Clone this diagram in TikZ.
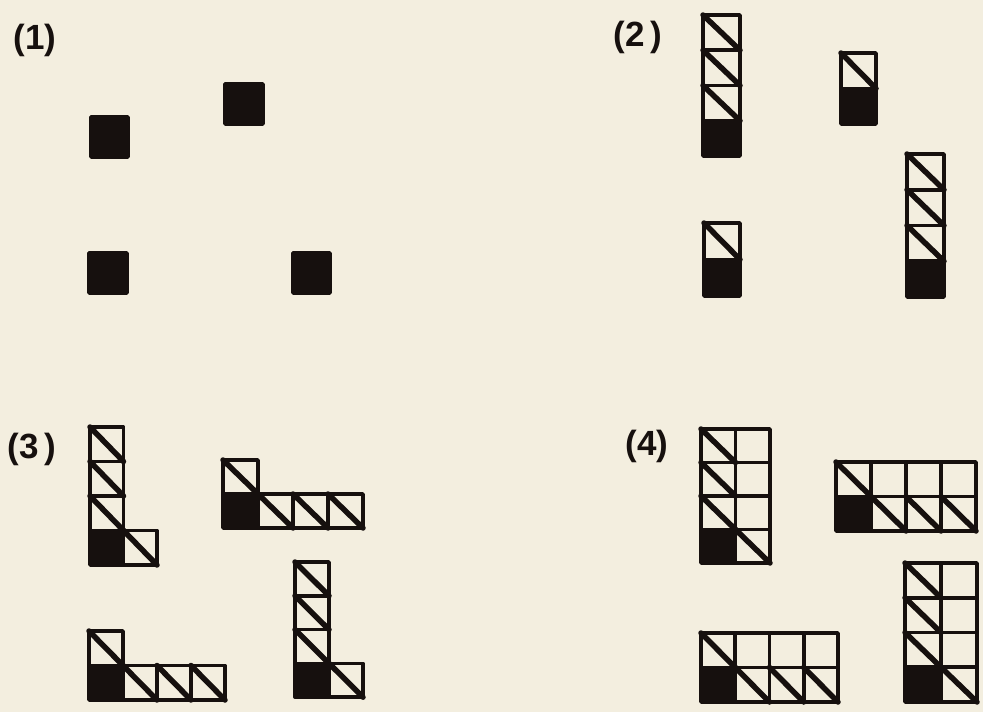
\documentclass[tikz,border=0pt]{standalone}
\usepackage{fontspec}
\setmainfont{Liberation Sans}
\definecolor{Paper}{RGB}{243,238,223}
\definecolor{Ink}{RGB}{22,16,14}

% one cell of a pattern, (#1,#2) = top left corner in cell units
\newcommand{\hatchcell}[2]{%
  \draw[cellline] (#1,#2) rectangle ++(1,1);
  \draw[diagline] (#1,#2) -- ++(1,1);}
\newcommand{\darkcell}[2]{%
  \filldraw[cellline, fill=Ink] (#1,#2) rectangle ++(1,1);}
\newcommand{\plaincell}[2]{%
  \draw[cellline] (#1,#2) rectangle ++(1,1);}

\begin{document}
\begin{tikzpicture}[x=1pt, y=-1pt,
          cellline/.style={draw=Ink, line width=3.6pt, line join=round},
          diagline/.style={draw=Ink, line width=5.5pt, line cap=round},
          stage/.style={font=\fontsize{35}{40}\selectfont\bfseries, text=Ink, inner sep=0pt}
        ]
        \fill[Paper] (0,0) rectangle (983,712);

        % stage labels
        \node[stage] (s1) at (35,40)  {(1)};
        \node[stage] (s2) at (638,37) {(2\,)};
        \node[stage] (s3) at (32,449) {(3\,)};
        \node[stage] (s4) at (647,446) {(4)};

        % (1) single seeds
        \begin{scope}[shift={(91,117)}, x=37pt, y=-40pt]
          \darkcell{0}{0}
        \end{scope}
        \begin{scope}[shift={(225,84)}, x=38pt, y=-40pt]
          \darkcell{0}{0}
        \end{scope}
        \begin{scope}[shift={(89,253)}, x=38pt, y=-40pt]
          \darkcell{0}{0}
        \end{scope}
        \begin{scope}[shift={(293,253)}, x=37pt, y=-40pt]
          \darkcell{0}{0}
        \end{scope}

        % (2) columns
        \begin{scope}[shift={(703,15)}, x=37pt, y=-35.25pt]
          \foreach \r in {0,1,2} {\hatchcell{0}{\r}}
          \darkcell{0}{3}
        \end{scope}
        \begin{scope}[shift={(841,53)}, x=35pt, y=-35.5pt]
          \hatchcell{0}{0}
          \darkcell{0}{1}
        \end{scope}
        \begin{scope}[shift={(704,223)}, x=36pt, y=-36.5pt]
          \hatchcell{0}{0}
          \darkcell{0}{1}
        \end{scope}
        \begin{scope}[shift={(907,154)}, x=37pt, y=-35.75pt]
          \foreach \r in {0,1,2} {\hatchcell{0}{\r}}
          \darkcell{0}{3}
        \end{scope}

        % (3) corners
        \begin{scope}[shift={(90,427)}, x=33.5pt, y=-34.5pt]
          \foreach \r in {0,1,2} {\hatchcell{0}{\r}}
          \darkcell{0}{3}
          \hatchcell{1}{3}
        \end{scope}
        \begin{scope}[shift={(223,460)}, x=35pt, y=-34pt]
          \hatchcell{0}{0}
          \darkcell{0}{1}
          \foreach \c in {1,2,3} {\hatchcell{\c}{1}}
        \end{scope}
        \begin{scope}[shift={(89,631)}, x=34pt, y=-34.5pt]
          \hatchcell{0}{0}
          \darkcell{0}{1}
          \foreach \c in {1,2,3} {\hatchcell{\c}{1}}
        \end{scope}
        \begin{scope}[shift={(295,562)}, x=34pt, y=-33.8pt]
          \foreach \r in {0,1,2} {\hatchcell{0}{\r}}
          \darkcell{0}{3}
          \hatchcell{1}{3}
        \end{scope}

        % (4) filled blocks
        \begin{scope}[shift={(701,429)}, x=34.5pt, y=-33.5pt]
          \foreach \r in {0,1,2} {\plaincell{1}{\r} \hatchcell{0}{\r}}
          \darkcell{0}{3}
          \hatchcell{1}{3}
        \end{scope}
        \begin{scope}[shift={(836,462)}, x=35pt, y=-34.5pt]
          \foreach \c in {1,2,3} {\plaincell{\c}{0} \hatchcell{\c}{1}}
          \hatchcell{0}{0}
          \darkcell{0}{1}
        \end{scope}
        \begin{scope}[shift={(701,633)}, x=34.25pt, y=-34.5pt]
          \foreach \c in {1,2,3} {\plaincell{\c}{0} \hatchcell{\c}{1}}
          \hatchcell{0}{0}
          \darkcell{0}{1}
        \end{scope}
        \begin{scope}[shift={(905,563)}, x=36pt, y=-34.75pt]
          \foreach \r in {0,1,2} {\plaincell{1}{\r} \hatchcell{0}{\r}}
          \darkcell{0}{3}
          \hatchcell{1}{3}
        \end{scope}
      \end{tikzpicture}
\end{document}
